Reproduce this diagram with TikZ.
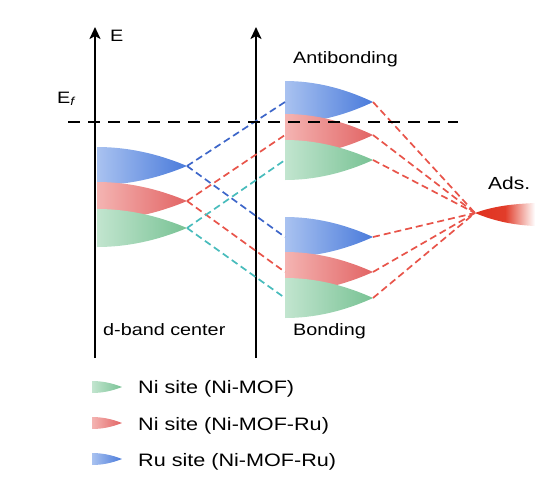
\documentclass[tikz,border=0pt]{standalone}
\usepackage{fontspec}
\setmainfont{Liberation Sans}[FakeStretch=1.2]
\usepackage{xcolor}
\usetikzlibrary{arrows.meta}
\tikzset{
  font={\fontsize{16.5pt}{18}\selectfont}}

\definecolor{blueL}{HTML}{A9C2F0}
\definecolor{blueR}{HTML}{4A7BDB}
\definecolor{redL}{HTML}{F4B4B2}
\definecolor{redR}{HTML}{E26464}
\definecolor{greenL}{HTML}{C2E5CF}
\definecolor{greenR}{HTML}{78C294}
\definecolor{adsred}{HTML}{E0321F}
\definecolor{lineblue}{HTML}{3D66C9}
\definecolor{linered}{HTML}{E8544A}
\definecolor{lineteal}{HTML}{48BCBC}

% band: left x, tip y, length, half height, colour, name
\newcommand{\dband}[6]{%
  \shade[left color=#5L, right color=#5R]
    (#1,{#2-#4}) .. controls ({#1+#3/3},{#2-#4}) and ({#1+2*#3/3},{#2-2*#4/3}) .. ({#1+#3},#2)
    .. controls ({#1+2*#3/3},{#2+2*#4/3}) and ({#1+#3/3},{#2+#4}) .. (#1,{#2+#4}) -- cycle;
  \coordinate (#6-in) at (#1,#2);
  \coordinate (#6-tip) at ({#1+#3},#2);}

\begin{document}
\begin{tikzpicture}[x=1pt, y=-1pt]

        \tikzset{axis/.style = {line width=2.8pt, -{Stealth[length=12pt,width=11pt,inset=3pt]}},
                 link/.style = {line width=1.7pt, dash pattern=on 7pt off 4pt},
                 label/.style = {anchor=base west, inner sep=0pt},
                 legend/.style = {label, font={\fontsize{18pt}{20}\selectfont}}}

        \useasboundingbox (0,0) rectangle (558,488);

        % axes
        \coordinate (e0) at (95,358);
        \coordinate (e1) at (95,27);
        \coordinate (m0) at (256,358);
        \coordinate (m1) at (256,27);
        \draw[axis] (e0) -- (e1);
        \draw[axis] (m0) -- (m1);

        % bands
        \dband{97}{166}{90}{19}{blue}{lb}
        \dband{97}{201}{90}{19}{red}{lr}
        \dband{97}{228}{90}{19}{green}{lg}
        \dband{285}{102}{88}{21}{blue}{ab}
        \dband{285}{135}{88}{21}{red}{ar}
        \dband{285}{160}{88}{20}{green}{ag}
        \dband{285}{237}{88}{20}{blue}{bb}
        \dband{285}{272}{88}{20}{red}{br}
        \dband{285}{298}{88}{20}{green}{bg}

        % adsorbate
        \shade[left color=adsred, right color=white, middle color=adsred!95!white]
          (475,213) .. controls (494,206) and (513,204) .. (535,203)
          -- (535,226) .. controls (513,225) and (494,221) .. (475,213) -- cycle;
        \coordinate (ads) at (475,213);

        % edges
        \draw[link, lineblue] (lb-tip) -- (ab-in);
        \draw[link, lineblue] (lb-tip) -- (bb-in);
        \draw[link, linered] (lr-tip) -- (ar-in);
        \draw[link, linered] (lr-tip) -- (br-in);
        \draw[link, lineteal] (lg-tip) -- (ag-in);
        \draw[link, lineteal] (lg-tip) -- (bg-in);
        \foreach \b in {ab,ar,ag,bb,br,bg}
          \draw[link, linered] (\b-tip) -- (ads);

        % Fermi level
        \coordinate (f0) at (68,122);
        \coordinate (f1) at (458,122);
        \draw[line width=2.6pt, dash pattern=on 12pt off 8pt] (f0) -- (f1);

        % labels
        \node[label] (E) at (110,41) {E};
        \node[label] (Ef) at (57,103) {E\textsubscript{\textit{f}}};
        \node[label] (anti) at (293,63) {Antibonding};
        \node[label] (bond) at (293,335) {Bonding};
        \node[label] (dbc) at (103,335) {d-band center};
        \node[label, font={\fontsize{17.5pt}{20}\selectfont}] (adsl) at (488,189) {Ads.};

        % legend
        \dband{92}{387}{30}{6}{green}{kg}
        \dband{92}{423}{30}{6}{red}{kr}
        \dband{92}{459}{30}{6}{blue}{kb}
        \node[legend] (t1) at (138,393) {Ni site (Ni-MOF)};
        \node[legend] (t2) at (138,430) {Ni site (Ni-MOF-Ru)};
        \node[legend] (t3) at (138,466) {Ru site (Ni-MOF-Ru)};

\end{tikzpicture}
\end{document}
